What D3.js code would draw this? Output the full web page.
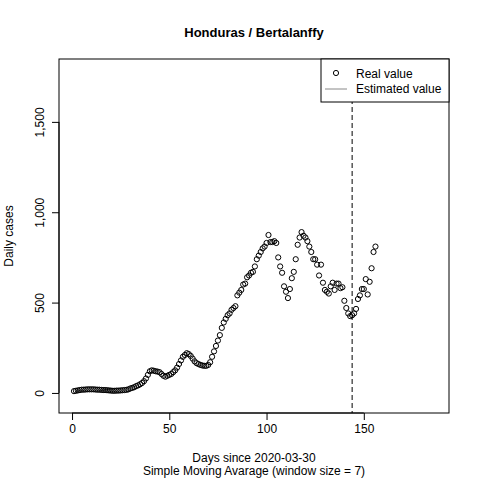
<!DOCTYPE html><html><head><script src="https://cdn.jsdelivr.net/npm/d3@7"></script>
<style>body{margin:0;background:#fff}text{font-family:"Liberation Sans",Arial,sans-serif}</style></head><body>
<script>
const early=[10,12,14,16,18,18,19,20,20,20,20,19,18,18,17,16,16,15,14,13,
12,12,13,13,14,15,16,17,20,25,28,32,38,42,48,55,65,80,100,120,
125,123,120,118,115,105,95,90,95,100,105,115,125,140,160,180,200,210,220,215,
205,190,175,165,160,155,152,150,150,155,170,200,230,260,290,320,360,390,410,430,440,460,470];
const late=[480,540,555,570,600,605,640,650,665,670,700,740,760,780,800,810,830,874,835,835,840,830,750,700,665,590,560,525,575,635,670,740,820,860,890,870,860,840,810,780,740,740,710,650,710,610,570,560,550,590,610,570,605,605,580,585,510,470,440,425,430,440,465,520,540,575,575,630,545,615,690,780,810];
const values=early.concat(late);
const days=values.map((d,i)=>i+1);
const cutDay=144;
const xTicks=[0,50,100,150], yTicks=[0,500,1000,1500];
const W=480,H=480,L=59,R=449,T=59,B=413;
const svg=d3.select("body").append("svg").attr("width",W).attr("height",H);
const x=d3.scaleLinear().domain([-6.7,193.8]).range([L,R]);
const y=d3.scaleLinear().domain([-111,1848]).range([B,T]);
svg.append("rect").attr("x",L).attr("y",T).attr("width",R-L).attr("height",B-T).attr("fill","none").attr("stroke","#000");
const xa=svg.append("g").attr("transform",`translate(0,${B})`).call(d3.axisBottom(x).tickValues(xTicks).tickSize(7).tickPadding(4));
const ya=svg.append("g").attr("transform",`translate(${L},0)`).call(d3.axisLeft(y).tickValues(yTicks).tickSize(7).tickPadding(4));
[xa,ya].forEach(a=>{a.select(".domain").remove();a.selectAll("text").attr("font-size",12).attr("fill","#000").style("font-family","Liberation Sans, Arial")});
xa.append("line").attr("x1",x(0)).attr("x2",x(150)).attr("stroke","#000");
ya.append("line").attr("y1",y(0)).attr("y2",y(1500)).attr("stroke","#000");
ya.selectAll(".tick text").attr("transform",function(){const t=d3.select(this.parentNode).attr("transform");return "rotate(-90) translate(0,-3)";}).attr("text-anchor","middle").attr("x",0).attr("dy","0").attr("y",-12);
svg.append("g").selectAll("circle").data(values).join("circle").attr("cx",(d,i)=>x(days[i])).attr("cy",d=>y(d)).attr("r",2.6).attr("fill","none").attr("stroke","#000").attr("stroke-width",1);
svg.append("line").attr("x1",x(cutDay)).attr("x2",x(cutDay)).attr("y1",T).attr("y2",B).attr("stroke","#000").attr("stroke-dasharray","5,3");
svg.append("text").attr("x",(L+R)/2).attr("y",37).attr("text-anchor","middle").attr("font-weight","bold").attr("font-size",13).text("Honduras / Bertalanffy");
svg.append("text").attr("x",(L+R)/2).attr("y",462).attr("text-anchor","middle").attr("font-size",12).text("Days since 2020-03-30");
svg.append("text").attr("x",(L+R)/2).attr("y",475).attr("text-anchor","middle").attr("font-size",12).text("Simple Moving Avarage (window size = 7)");
svg.append("text").attr("transform","translate(13,236) rotate(-90)").attr("text-anchor","middle").attr("font-size",12).text("Daily cases");
const lg=svg.append("g");
lg.append("rect").attr("x",321).attr("y",T).attr("width",R-321).attr("height",43).attr("fill","#fff").attr("stroke","#000");
lg.append("circle").attr("cx",336).attr("cy",73).attr("r",2.6).attr("fill","none").attr("stroke","#000");
lg.append("line").attr("x1",325).attr("x2",347).attr("y1",89).attr("y2",89).attr("stroke","#888");
lg.append("text").attr("x",356).attr("y",78).attr("font-size",12).text("Real value");
lg.append("text").attr("x",356).attr("y",93).attr("font-size",12).text("Estimated value");
</script></body></html>
